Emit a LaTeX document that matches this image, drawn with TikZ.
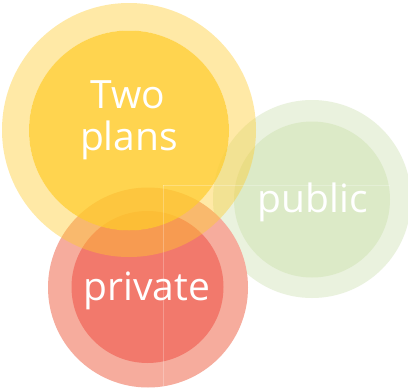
\documentclass[tikz,border=0pt]{standalone}
\usepackage{fontspec}
\setmainfont{Open Sans}
\definecolor{ybase}{RGB}{255,204,44}
\definecolor{rring}{RGB}{246,172,157}
\definecolor{rinner}{RGB}{242,121,108}
\definecolor{gring}{RGB}{234,242,222}
\definecolor{ginner}{RGB}{220,234,199}
\tikzset{
  lbl/.style={text=white, font=\fontsize{39}{42}\selectfont, inner sep=0pt, anchor=base},
  slice/.style={draw=white, line width=0.5pt, opacity=0.25}
}
\begin{document}
\begin{tikzpicture}[x=1pt,y=-1pt]
\useasboundingbox (0,0) rectangle (408,389);
\fill[white] (0,0) rectangle (408,389);
% green
\fill[gring] (312,199) circle[radius=99pt];
\fill[ginner] (312,199.5) circle[radius=78pt];
% red
\fill[rring] (148,287.5) circle[radius=100pt];
\fill[rinner] (147.5,287) circle[radius=76pt];
% yellow (semi-transparent)
\fill[ybase, opacity=0.42, even odd rule] (129,130) circle[radius=127pt] (129,130.5) circle[radius=100pt];
\fill[ybase, opacity=0.83] (129,130.5) circle[radius=100pt];
% faint slice lines
\coordinate (s1) at (163,185);
\coordinate (s2) at (163,389);
\coordinate (s3) at (390,185);
\draw[slice] (s1) -- (s2);
\draw[slice] (s1) -- (s3);
% labels
\node[lbl] (two) at (128,108) {Two};
\node[lbl] (plans) at (129,150) {plans};
\node[lbl] (public) at (313,212) {public};
\node[lbl] (private) at (147,300) {private};
\end{tikzpicture}
\end{document}
